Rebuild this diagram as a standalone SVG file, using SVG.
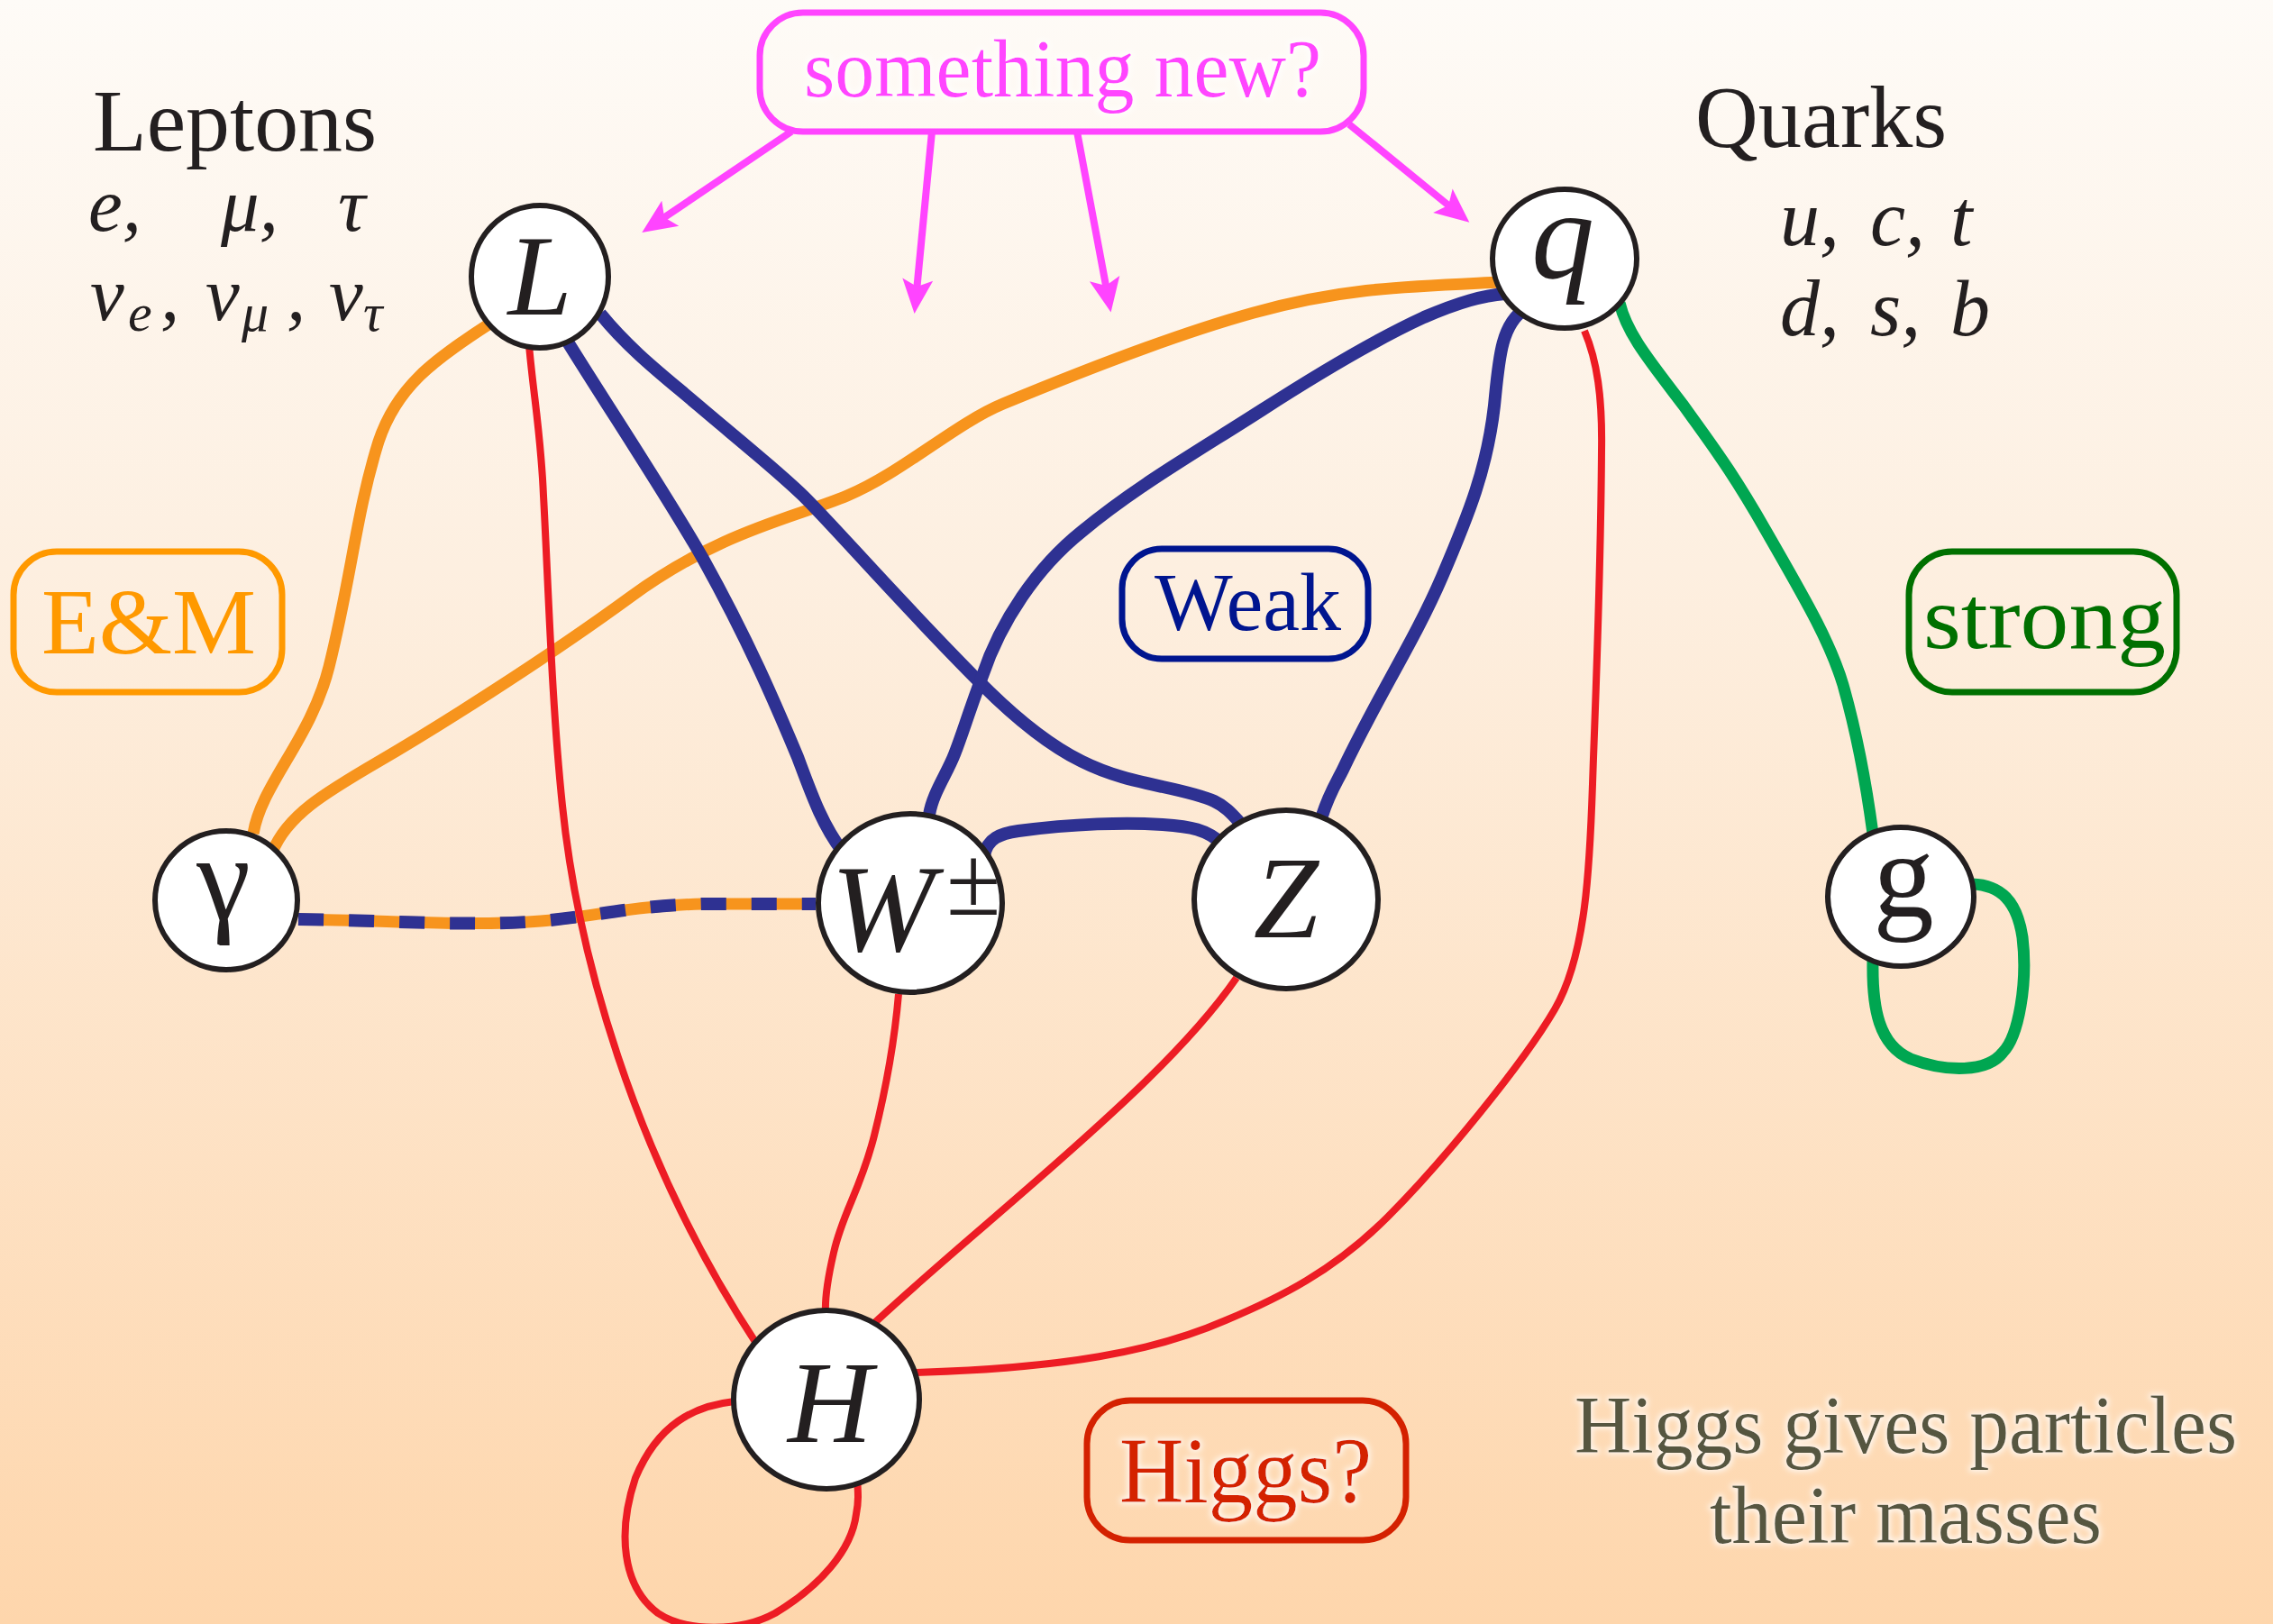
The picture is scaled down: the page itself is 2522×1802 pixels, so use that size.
<svg xmlns="http://www.w3.org/2000/svg" width="2522" height="1802" viewBox="0 0 2522 1802">
<defs>
<linearGradient id="bg" x1="0" y1="0" x2="0" y2="1">
<stop offset="0" stop-color="#fefbf7"/>
<stop offset="0.35" stop-color="#fdefe0"/>
<stop offset="1" stop-color="#fed6ac"/>
</linearGradient>
<marker id="ah" viewBox="-16 -20 44 40" refX="0" refY="0" markerWidth="44" markerHeight="40" orient="auto" markerUnits="userSpaceOnUse">
<path d="M25,0 L-13,-17 L-5,0 L-13,17 Z" fill="#ff44ff"/>
</marker>
<filter id="glow" x="-10%" y="-30%" width="120%" height="160%">
<feMorphology in="SourceAlpha" operator="dilate" radius="2" result="d"/>
<feGaussianBlur in="d" stdDeviation="3" result="b"/>
<feFlood flood-color="#ffffff" flood-opacity="0.8"/>
<feComposite in2="b" operator="in" result="g"/>
<feMerge><feMergeNode in="g"/><feMergeNode in="SourceGraphic"/></feMerge>
</filter>
</defs>
<style>
.node ellipse{fill:#ffffff;stroke:#231f20;stroke-width:6}
.lbl{font-family:"Liberation Serif","Times New Roman",serif;fill:#231f20}
.it{font-style:italic}
.conn path{fill:none;stroke-linecap:butt;stroke-linejoin:round}
.orange{stroke:#f7941d;stroke-width:13}
.blue{stroke:#2e3192;stroke-width:14}
.red{stroke:#ed1c24;stroke-width:8}
.green{stroke:#00a651;stroke-width:13}
.arrow{stroke:#ff44ff;stroke-width:8;marker-end:url(#ah)}
.box{fill:none;stroke-width:7}
.serif{font-family:"Liberation Serif","Times New Roman",serif}
</style>
<rect x="0" y="0" width="2522" height="1802" fill="url(#bg)"/>

<!-- Labels -->
<g id="leptons-label" class="lbl">
<text x="103" y="167" font-size="98" textLength="315" lengthAdjust="spacingAndGlyphs">Leptons</text>
<g class="it" font-size="85">
<text x="98" y="256">e,</text>
<text x="245" y="256">μ,</text>
<text x="375" y="256">τ</text>
<text x="100" y="355">ν</text>
<text x="142" y="367" font-size="60">e</text>
<text x="178" y="355">,</text>
<text x="228" y="355">ν</text>
<text x="268" y="367" font-size="60">μ</text>
<text x="318" y="355">,</text>
<text x="365" y="355">ν</text>
<text x="403" y="367" font-size="60">τ</text>
</g>
</g>
<g id="quarks-label" class="lbl">
<text x="1881" y="163" font-size="98" textLength="279" lengthAdjust="spacingAndGlyphs">Quarks</text>
<g class="it" font-size="88">
<text x="1975" y="272">u,</text>
<text x="2075" y="272">c,</text>
<text x="2164" y="272">t</text>
<text x="1975" y="372">d,</text>
<text x="2075" y="372">s,</text>
<text x="2164" y="372">b</text>
</g>
</g>

<!-- Boxes -->
<g id="box-new">
<rect class="box" x="843" y="14" width="670" height="132" rx="48" ry="48" stroke="#ff44ff" stroke-width="6"/>
<text class="serif" x="892" y="107" font-size="90" fill="#ff44ff" textLength="574" lengthAdjust="spacingAndGlyphs" filter="url(#glow)">something new?</text>
</g>
<g id="box-em">
<rect class="box" x="15" y="612" width="298" height="156" rx="48" ry="48" stroke="#ff9900"/>
<text class="serif" x="46" y="725" font-size="104" fill="#ff9900" textLength="238" lengthAdjust="spacingAndGlyphs">E&amp;M</text>
</g>
<g id="box-weak">
<rect class="box" x="1245" y="609" width="273" height="122" rx="44" ry="44" stroke="#00158f"/>
<text class="serif" x="1281" y="699" font-size="90" fill="#00158f" textLength="207" lengthAdjust="spacingAndGlyphs">Weak</text>
</g>
<g id="box-strong">
<rect class="box" x="2118" y="612" width="297" height="156" rx="48" ry="48" stroke="#007000"/>
<text class="serif" x="2134" y="719" font-size="100" fill="#007000" textLength="269" lengthAdjust="spacingAndGlyphs">strong</text>
</g>
<g id="box-higgs">
<rect class="box" x="1206" y="1554" width="354" height="155" rx="48" ry="48" stroke="#d42100"/>
<text class="serif" x="1242" y="1667" font-size="104" fill="#d42100" textLength="280" lengthAdjust="spacingAndGlyphs" filter="url(#glow)">Higgs?</text>
</g>
<g id="note" class="serif" fill="#57573f" font-size="90" filter="url(#glow)">
<text x="1747" y="1612" textLength="735" lengthAdjust="spacingAndGlyphs">Higgs gives particles</text>
<text x="1897" y="1712" textLength="435" lengthAdjust="spacingAndGlyphs">their masses</text>
</g>

<!-- Connectors -->
<g id="connectors" class="conn">
<!-- orange -->
<path class="orange" d="M542,360 C480,400 440,430 420,490 C395,570 390,640 365,740 C345,820 290,870 281,925"/>
<path class="orange" d="M302,946 C318,905 360,880 420,845 S600,735 700,662 C800,589 880,575 940,550 C1000,525 1060,470 1113,448 C1166,426 1290,375 1391,347 C1492,319 1560,318 1665,313"/>
<path class="orange" d="M331,1020 C450,1022 520,1028 600,1022 C660,1017 700,1005 780,1003 L905,1003"/>
<path class="blue" stroke-dasharray="28 28" d="M331,1020 C450,1022 520,1028 600,1022 C660,1017 700,1005 780,1003 L905,1003"/>
<!-- blue -->
<path class="blue" d="M629,378 C680,460 740,550 780,620 C830,710 860,780 885,840 C900,880 912,915 935,945"/>
<path class="blue" d="M666,348 C700,390 740,420 775,450 C810,480 860,520 891,550 C922,580 1000,670 1090,760 C1180,850 1230,860 1290,873 C1350,886 1355,890 1375,912"/>
<path class="blue" d="M1031,904 C1035,880 1050,860 1059,837 C1068,814 1075,790 1090,750 C1110,690 1150,630 1200,590 C1260,540 1330,500 1400,455 C1470,410 1530,375 1580,352 C1620,335 1645,328 1670,326"/>
<path class="blue" d="M1467,905 C1475,880 1482,870 1490,854 C1530,770 1570,710 1600,640 C1630,570 1650,520 1658,450 C1663,400 1665,360 1692,343"/>
<path class="blue" d="M1092,950 C1095,930 1110,925 1130,922 C1190,914 1250,912 1290,915 C1320,917 1340,920 1358,938"/>
<!-- red -->
<path class="red" d="M587,383 C592,440 600,480 603,550 C608,640 612,780 624,894 C640,1050 700,1280 840,1492"/>
<path class="red" d="M997,1103 C993,1150 985,1200 970,1260 C955,1320 935,1345 925,1390 C918,1420 915,1440 916,1458"/>
<path class="red" d="M1372,1085 C1320,1160 1230,1240 1150,1310 C1070,1380 1010,1430 966,1472"/>
<path class="red" d="M1758,367 C1772,400 1778,440 1777,500 C1776,650 1770,780 1767,870 C1764,960 1760,1060 1725,1120 C1690,1180 1600,1290 1540,1350 C1480,1410 1420,1440 1360,1465 C1280,1500 1180,1518 1016,1523" stroke-width="9"/>
<path class="red" d="M815,1555 C770,1560 730,1580 705,1640 C685,1700 690,1760 730,1790 C760,1810 820,1812 860,1790 C910,1760 945,1720 950,1680 C953,1665 952,1655 951,1640"/>
<!-- green -->
<path class="green" d="M1797,336 C1805,370 1830,400 1868,450 C1900,495 1920,520 1960,590 C2000,660 2030,710 2045,760 C2062,820 2072,880 2078,925"/>
<path class="green" d="M2188,981 C2220,982 2238,1000 2244,1040 C2250,1090 2240,1150 2222,1168 C2205,1190 2160,1190 2120,1175 C2085,1160 2077,1120 2078,1066"/>
<!-- magenta arrows -->
<path class="arrow" d="M878,146 L733,244"/>
<path class="arrow" d="M1034,146 L1017,323"/>
<path class="arrow" d="M1195,146 L1228,322"/>
<path class="arrow" d="M1497,138 L1611,231"/>
</g>

<!-- Nodes -->
<g id="node-L" class="node">
<ellipse cx="599" cy="307" rx="76" ry="79"/>
<text class="lbl it" x="599" y="349" font-size="128" text-anchor="middle">L</text>
</g>
<g id="node-q" class="node">
<ellipse cx="1736" cy="287" rx="80" ry="77"/>
<text class="lbl it" x="1734" y="308" font-size="140" text-anchor="middle">q</text>
</g>
<g id="node-gamma" class="node">
<ellipse cx="251" cy="999" rx="79" ry="77"/>
<text class="lbl" x="248" y="1020" font-size="135" text-anchor="middle">γ</text>
</g>
<g id="node-W" class="node">
<ellipse cx="1010" cy="1002" rx="102" ry="99"/>
<text class="lbl it" x="922" y="1055" font-size="138">W</text>
<text class="lbl" x="1050" y="1015" font-size="110">±</text>
</g>
<g id="node-Z" class="node">
<ellipse cx="1427" cy="998" rx="102" ry="99"/>
<text class="lbl it" x="1427" y="1040" font-size="130" text-anchor="middle">Z</text>
</g>
<g id="node-g" class="node">
<ellipse cx="2109" cy="995" rx="81" ry="77"/>
<text class="lbl" x="2112" y="1017" font-size="135" text-anchor="middle">g</text>
</g>
<g id="node-H" class="node">
<ellipse cx="917" cy="1553" rx="103" ry="99"/>
<text class="lbl it" x="921" y="1600" font-size="130" text-anchor="middle">H</text>
</g>
</svg>
